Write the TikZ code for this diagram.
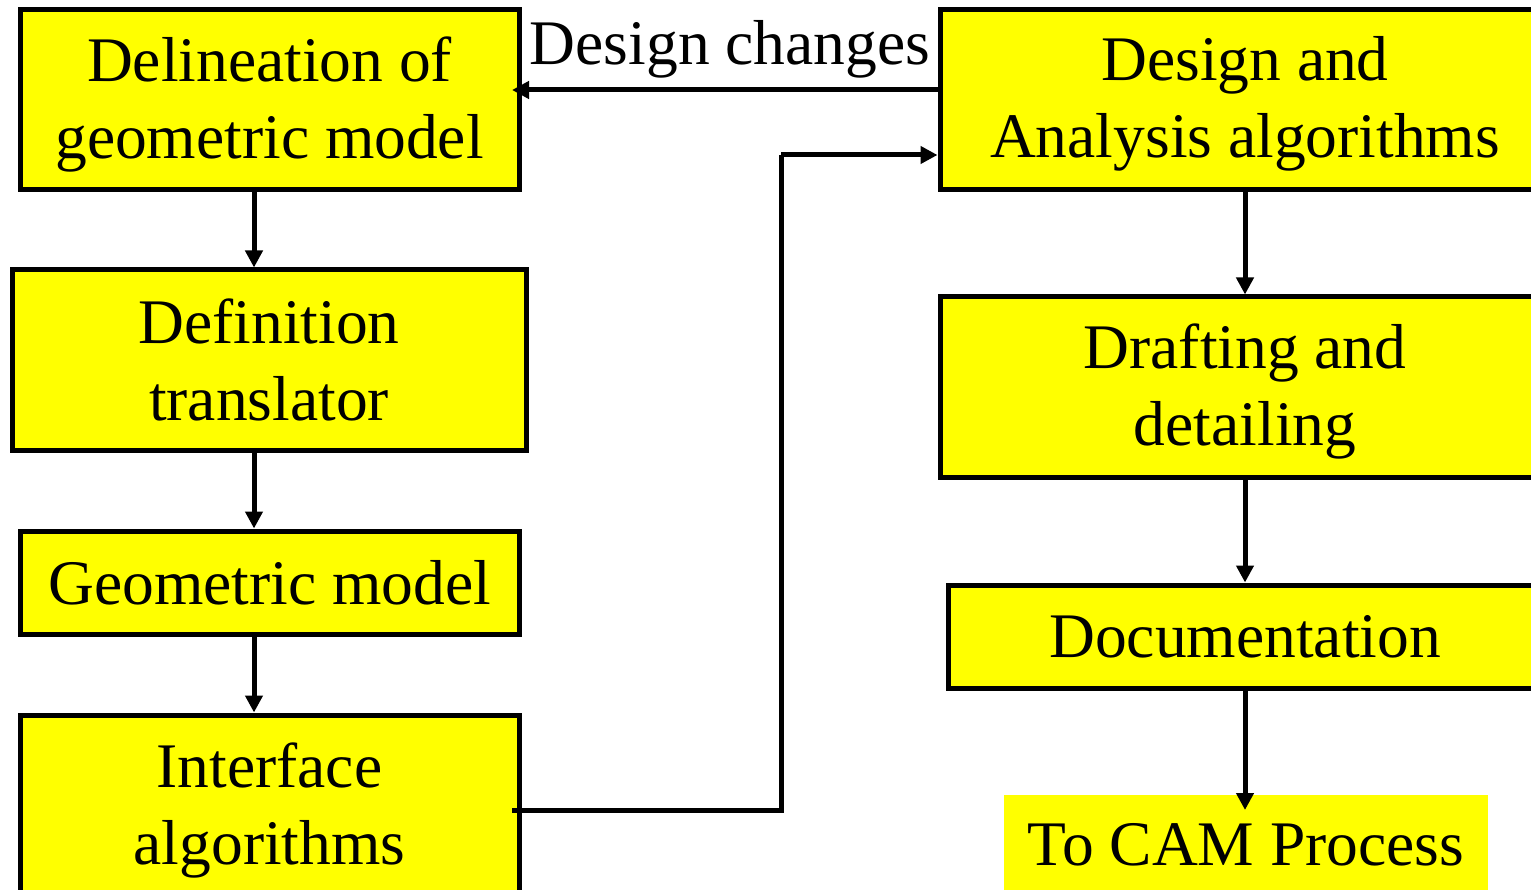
\documentclass[tikz,border=0pt]{standalone}
\usepackage{fontspec}
\setmainfont{Liberation Serif}
\usetikzlibrary{arrows.meta}
\definecolor{boxyellow}{RGB}{255,255,0}
\begin{document}
\begin{tikzpicture}[x=1pt,y=-1pt,
  bigtext/.style={font=\fontsize{63.5}{77}\selectfont},
  box/.style={draw=black, line width=5pt, fill=boxyellow, inner sep=0pt,
    align=center, bigtext},
  plain/.style={fill=boxyellow, inner sep=0pt, align=center, bigtext},
  inlabel/.style={label={[align=center, bigtext, inner sep=0pt, yshift=-4pt]center:#1}},
  arr/.style={line width=5pt, -{Triangle[length=17pt,width=17pt]}},
  conn/.style={line width=5pt}]
\useasboundingbox (0,0) rectangle (1531,890);
\clip (0,0) rectangle (1531,890);

% left column
\node[box, minimum width=499pt, minimum height=180pt,
  inlabel={Delineation of\\geometric model}] (delin) at (269.5,100) {};
\node[box, minimum width=514pt, minimum height=180pt] (defn) at (269,360)
  {Definition\\translator};
\node[box, minimum width=499pt, minimum height=103pt] (geom) at (269.5,582.5)
  {Geometric model};
\node[box, minimum width=499pt, minimum height=190pt] (iface) at (269.5,810)
  {Interface\\algorithms};

% right column
\node[box, minimum width=610pt, minimum height=180pt,
  inlabel={Design and\\Analysis algorithms}] (design) at (1245,100) {};
\node[box, minimum width=610pt, minimum height=180pt,
  inlabel={Drafting and\\detailing}] (draft) at (1245,387) {};
\node[box, minimum width=594pt, minimum height=103pt] (doc) at (1245,636.5)
  {Documentation};
\node[plain, minimum width=484pt, minimum height=100pt] (cam) at (1246,845)
  {To CAM Process};

% left column flow
\draw[arr] ([xshift=-15.5pt]delin.south) -- ([xshift=-15.5pt]delin.south |- defn.north);
\draw[arr] ([xshift=-15pt]defn.south) -- ([xshift=-15pt]defn.south |- geom.north);
\draw[arr] ([xshift=-15.5pt]geom.south) -- ([xshift=-15.5pt]geom.south |- iface.north);

% right column flow
\draw[arr] (design.south) -- (draft.north);
\draw[arr] (draft.south) -- (doc.north);
\coordinate (camtip) at (1245,810);
\draw[arr] (doc.south) -- (camtip);

% feedback and hand-over
\coordinate (dcend) at (512,90);
\draw[arr] (design.west |- dcend) -- (dcend);
\node[anchor=base, bigtext, inner sep=0pt] (dclabel)
  at (730,65) {Design changes};

\coordinate (ifstart) at (512,810);
\coordinate (bend) at (781,810);
\draw[conn] (ifstart) -- (bend) -- (781,155);
\draw[arr] (781,155) -- (design.west |- 0,155);
\end{tikzpicture}
\end{document}
